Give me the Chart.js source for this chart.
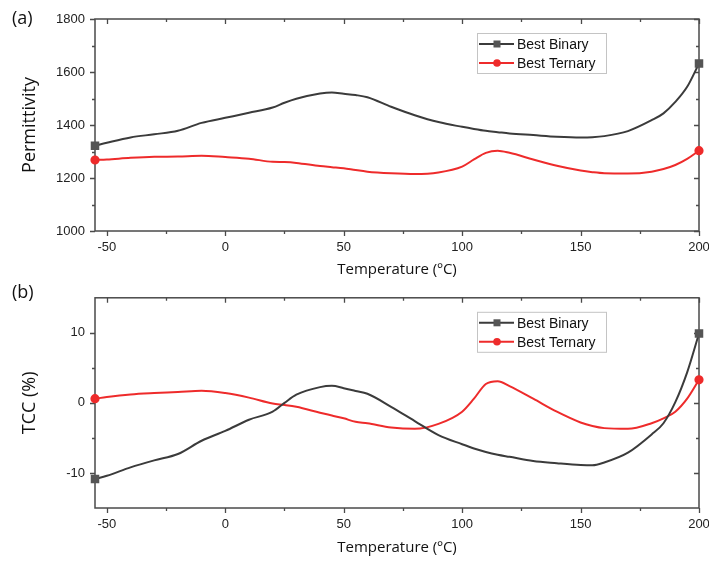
<!DOCTYPE html>
<html>
<head>
<meta charset="utf-8">
<script src="https://cdn.jsdelivr.net/npm/chart.js@4.4.1/dist/chart.umd.min.js"></script>
<style>
  body { margin: 0; background: #fff; }
  #wrap { position: relative; width: 709px; height: 562px; background: #fff; }
  canvas { position: absolute; left: 0; }
</style>
</head>
<body>
<div id="wrap">
  <canvas id="permChart" width="709" height="280" style="top:0"></canvas>
  <canvas id="tccChart" width="709" height="282" style="top:280px"></canvas>
</div>
<script>
// measurement temperatures (°C)
const temps = [-55, -50, -40, -30, -20, -10, 0, 10, 20, 25, 30, 40, 45, 50, 55, 60, 70, 80, 90, 100,
               105, 110, 115, 120, 130, 140, 150, 155, 160, 170, 180, 185, 190, 195, 200];

// permittivity
const permBinary = [1322, 1333, 1353, 1365, 1378, 1408, 1427, 1446, 1466, 1484, 1499, 1519, 1523, 1518, 1513, 1505, 1469, 1437, 1411, 1393,
                    1385, 1378, 1373, 1368, 1362, 1356, 1353, 1354, 1358, 1377, 1418, 1444, 1487, 1544, 1632];
const permTernary = [1268, 1270, 1276, 1280, 1281, 1284, 1279, 1273, 1261, 1260, 1257, 1245, 1241, 1237, 1230, 1224, 1218, 1215, 1221, 1243,
                     1270, 1295, 1303, 1295, 1270, 1246, 1228, 1222, 1218, 1217, 1224, 1234, 1249, 1272, 1303];

// temperature coefficient of capacitance (%)
const tccBinary = [-10.86, -10.4, -9.2, -8.2, -7.3, -5.4, -4.0, -2.4, -1.26, 0.0, 1.17, 2.25, 2.43, 2.1, 1.7, 1.3, -0.56, -2.6, -4.6, -5.9,
                   -6.5, -7.0, -7.4, -7.7, -8.3, -8.6, -8.85, -8.9, -8.5, -7.1, -4.5, -2.9, 0.1, 4.35, 9.9];
const tccTernary = [0.6, 0.84, 1.2, 1.4, 1.55, 1.73, 1.4, 0.75, -0.1, -0.3, -0.56, -1.4, -1.8, -2.2, -2.7, -2.9, -3.5, -3.7, -3.0, -1.26,
                    0.6, 2.7, 3.1, 2.4, 0.6, -1.26, -2.8, -3.3, -3.6, -3.7, -2.9, -2.2, -1.26, 0.6, 3.3];

const seriesNames = ['Best Binary', 'Best Ternary'];
const xTicks = [-50, 0, 50, 100, 150, 200];
const permTicks = [1000, 1200, 1400, 1600, 1800];
const tccTicks = [-10, 0, 10];

const BLACK = '#3b3b3b';
const RED = '#ee2b2b';
const AXIS = '#4a4a4a';

// box frame with Origin-style ticks: out on bottom/left, mirrored inward on top/right
const frameTicks = {
  id: 'frameTicks',
  beforeDatasetsDraw(chart, args, opts) {
    const { ctx, chartArea: a, scales } = chart;
    const minors = (vals, scale) => {
      const out = [];
      const step = vals[1] - vals[0];
      for (let v = vals[0] - step / 2; v <= scale.max; v += step) {
        if (v > scale.min && v < scale.max) out.push(v);
      }
      return out;
    };
    ctx.save();
    ctx.strokeStyle = AXIS;
    ctx.lineWidth = 1.5;
    ctx.strokeRect(a.left, a.top, a.right - a.left, a.bottom - a.top);
    ctx.lineWidth = 1.3;
    const drawX = (vals, len) => vals.forEach(v => {
      const px = Math.round(scales.x.getPixelForValue(v)) + 0.5;
      ctx.beginPath();
      ctx.moveTo(px, a.bottom); ctx.lineTo(px, a.bottom + len);
      ctx.moveTo(px, a.top); ctx.lineTo(px, a.top + len);
      ctx.stroke();
    });
    const drawY = (vals, len) => vals.forEach(v => {
      const py = Math.round(scales.y.getPixelForValue(v)) + 0.5;
      ctx.beginPath();
      ctx.moveTo(a.left, py); ctx.lineTo(a.left - len, py);
      ctx.moveTo(a.right, py); ctx.lineTo(a.right - len, py);
      ctx.stroke();
    });
    drawX(xTicks, 5);
    drawX(minors(xTicks, scales.x), 3);
    drawY(opts.yTicks, 5);
    drawY(minors(opts.yTicks, scales.y), 3);
    ctx.restore();
  },
  afterDraw(chart, args, opts) {
    const { ctx, chartArea: a } = chart;
    ctx.save();
    // panel letter
    ctx.fillStyle = '#111';
    ctx.font = '18px "Open Sans"';
    ctx.textBaseline = 'middle';
    ctx.fillText(opts.panel, 12, opts.panelY);

    // legend box
    const bx = a.left + 382, by = a.top + 14, bw = 129, bh = 40;
    ctx.fillStyle = '#fff';
    ctx.fillRect(bx, by, bw, bh);
    ctx.strokeStyle = '#c4c4c4';
    ctx.lineWidth = 1;
    ctx.strokeRect(bx + 0.5, by + 0.5, bw, bh);
    chart.data.datasets.forEach((ds, i) => {
      const ry = by + 11 + i * 19;
      ctx.strokeStyle = ds.borderColor;
      ctx.lineWidth = 2;
      ctx.beginPath();
      ctx.moveTo(bx + 2, ry); ctx.lineTo(bx + 37, ry);
      ctx.stroke();
      ctx.fillStyle = ds.pointBackgroundColor;
      if (ds.pointStyle === 'rect') {
        ctx.fillRect(bx + 16.5, ry - 3.5, 7, 7);
      } else {
        ctx.beginPath();
        ctx.arc(bx + 20, ry, 3.8, 0, Math.PI * 2);
        ctx.fill();
      }
      ctx.fillStyle = '#111';
      ctx.font = '14px "Liberation Sans", Arial';
      ctx.textBaseline = 'middle';
      ctx.fillText(ds.label, bx + 40, ry + 1);
    });
    ctx.restore();
  }
};

function endPoints(r) {
  return ctx => (ctx.dataIndex === 0 || ctx.dataIndex === temps.length - 1) ? r : 0;
}

function makeChart(id, cfg) {
  const tickFont = { family: '"Liberation Sans", Arial', size: 13 };
  const titleFont = { family: '"Open Sans"', size: 15 };
  return new Chart(document.getElementById(id), {
    type: 'line',
    data: {
      datasets: [{
        label: seriesNames[0],
        data: temps.map((t, i) => ({ x: t, y: cfg.binary[i] })),
        borderColor: BLACK,
        backgroundColor: '#555',
        pointBackgroundColor: '#555',
        pointBorderColor: '#555',
        pointStyle: 'rect',
        pointRadius: endPoints(4.6),
        borderWidth: 2,
        cubicInterpolationMode: 'monotone',
        clip: false
      }, {
        label: seriesNames[1],
        data: temps.map((t, i) => ({ x: t, y: cfg.ternary[i] })),
        borderColor: RED,
        backgroundColor: RED,
        pointBackgroundColor: RED,
        pointBorderColor: RED,
        pointStyle: 'circle',
        pointRadius: endPoints(3.6),
        borderWidth: 2,
        cubicInterpolationMode: 'monotone',
        clip: false
      }]
    },
    options: {
      responsive: false,
      animation: false,
      layout: { padding: { top: cfg.padTop, right: 10, left: 0, bottom: 0 } },
      scales: {
        x: {
          type: 'linear',
          min: -55,
          max: 200,
          afterBuildTicks: s => { s.ticks = xTicks.map(v => ({ value: v })); },
          // fixed axis band height; the "200" label may overhang the right margin
          afterFit: s => { s.height = cfg.xHeight; s.paddingRight = 0; },
          grid: { display: false, drawTicks: false },
          border: { display: false },
          ticks: { color: '#222', font: tickFont, padding: 9, maxRotation: 0, autoSkip: false,
                   callback: v => String(v) },
          title: { display: true, text: 'Temperature (ºC)', color: '#111', font: titleFont,
                   padding: { top: 0, bottom: cfg.xTitlePad } }
        },
        y: {
          type: 'linear',
          min: cfg.yMin,
          max: cfg.yMax,
          afterBuildTicks: s => { s.ticks = cfg.yTicks.map(v => ({ value: v })); },
          afterFit: s => { s.width = 95; },
          grid: { display: false, drawTicks: false },
          border: { display: false },
          ticks: { color: '#222', font: tickFont, padding: 10, autoSkip: false,
                   callback: v => String(v) },
          title: { display: true, text: cfg.yTitle, color: '#111',
                   font: { family: '"Open Sans"', size: 18 }, padding: { top: 19, bottom: 0 } }
        }
      },
      plugins: {
        legend: { display: false },
        tooltip: { enabled: false },
        frameTicks: { yTicks: cfg.yTicks, panel: cfg.panel, panelY: cfg.panelY }
      }
    },
    plugins: [frameTicks]
  });
}

makeChart('permChart', {
  binary: permBinary, ternary: permTernary,
  yMin: 1000, yMax: 1800, yTicks: permTicks, yTitle: 'Permittivity',
  padTop: 19, xHeight: 49, xTitlePad: 1, panel: '(a)', panelY: 19
});

makeChart('tccChart', {
  binary: tccBinary, ternary: tccTernary,
  yMin: -15, yMax: 15, yTicks: tccTicks, yTitle: 'TCC (%)',
  padTop: 15, xHeight: 54, xTitlePad: 5, panel: '(b)', panelY: 13
});
</script>
</body>
</html>
